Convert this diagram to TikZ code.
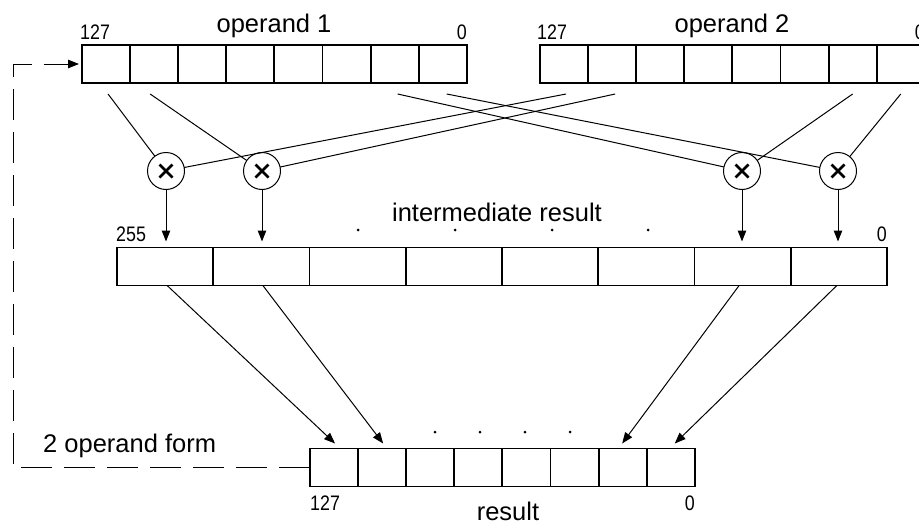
\documentclass[tikz,border=0pt]{standalone}
\usepackage{fontspec}
\setmainfont{Liberation Sans}
\newfontfamily\numfont[FakeStretch=0.85]{Liberation Sans}
\usetikzlibrary{arrows.meta}
\begin{document}
\begin{tikzpicture}[x=1pt,y=-1pt,
  cell/.style={draw, line width=1.9pt, minimum height=38pt, inner sep=0, outer sep=0},
  scell/.style={cell, minimum width=48.1pt},
  wcell/.style={cell, minimum width=96.25pt},
  mult/.style={circle, draw, line width=1pt, minimum size=37pt, inner sep=0, outer sep=0,
    path picture={\draw[line width=2.8pt]
      ([xshift=-6.5pt,yshift=-6.5pt]path picture bounding box.center) -- ([xshift=6.5pt,yshift=6.5pt]path picture bounding box.center)
      ([xshift=-6.5pt,yshift=6.5pt]path picture bounding box.center) -- ([xshift=6.5pt,yshift=-6.5pt]path picture bounding box.center);}},
  wire/.style={line width=1pt},
  arr/.style={wire, -{Triangle[length=11pt,width=8.5pt]}},
  dashline/.style={line width=1pt, dash pattern=on 31pt off 12pt},
  lbl/.style={font=\fontsize{25.5}{30}\selectfont, inner sep=0, anchor=base},
  num/.style={font=\numfont\fontsize{21}{24}\selectfont, inner sep=0}
]
\useasboundingbox (0,0) rectangle (919,525);
\clip (0,0) rectangle (919,525);
\fill[white] (0,0) rectangle (919,525);

% registers
\foreach \i in {0,...,7}{
  \node[scell] (a\i) at ({106.05+48.1*\i},64) {};
  \node[scell] (b\i) at ({564.05+48.1*\i},64) {};
  \node[wcell] (c\i) at ({165.125+96.25*\i},266.5) {};
  \node[scell] (r\i) at ({334.05+48.1*\i},467.5) {};
}

% multipliers
\node[mult] (m1) at (166,171) {};
\node[mult] (m2) at (262,171) {};
\node[mult] (m3) at (742,171) {};
\node[mult] (m4) at (838,171) {};

% operand wires
\draw[wire] ([xshift=2pt,yshift=-11pt]a0.south) -- (m1);
\draw[wire] ([xshift=-4pt,yshift=-11pt]a1.south) -- (m2);
\draw[wire] ([xshift=3pt,yshift=-11pt]a6.south) -- (m3);
\draw[wire] ([xshift=4pt,yshift=-11pt]a7.south) -- (m4);
\draw[wire] ([xshift=2pt,yshift=-11pt]b0.south) -- (m1);
\draw[wire] ([xshift=3pt,yshift=-11pt]b1.south) -- (m2);
\draw[wire] ([yshift=-11pt]b6.south) -- (m3);
\draw[wire] ([yshift=-11pt]b7.south) -- (m4);

% products down
\draw[arr, shorten >=6pt] (m1) -- (m1 |- c0.north);
\draw[arr, shorten >=6pt] (m2) -- (m2 |- c1.north);
\draw[arr, shorten >=6pt] (m3) -- (m3 |- c6.north);
\draw[arr, shorten >=6pt] (m4) -- (m4 |- c7.north);

% to result
\draw[arr] ([xshift=2pt]c0.south) -- ([xshift=1pt,yshift=5pt]r0.north);
\draw[arr] ([xshift=1.5pt]c1.south) -- ([xshift=1pt,yshift=5pt]r1.north);
\draw[arr] ([xshift=-3.5pt]c6.south) -- ([xshift=-0.5pt,yshift=5pt]r6.north);
\draw[arr] ([xshift=-2pt]c7.south) -- ([xshift=4pt,yshift=5pt]r7.north);

% feedback dashed
\coordinate (fb1) at (13,467.5);
\coordinate (fb2) at (13,64);
\draw[dashline, -{Triangle[length=11pt,width=8.5pt]}, shorten >=3pt] (r0.west) -- (fb1) -- (fb2) -- (a0.west);

% dots
\foreach \x in {358,455,552,648} \fill (\x,230) circle (1.5pt);
\foreach \x in {435,480,525,570} \fill (\x,432) circle (1.5pt);

% labels
\node[num, anchor=base west] (n1) at (80,39) {127};
\node[num, anchor=base east] (n2) at (467,39) {0};
\node[num, anchor=base west] (n3) at (537,39) {127};
\node[num, anchor=base east] (n4) at (925,39) {0};
\node[lbl] (t1) at (274,32) {operand 1};
\node[lbl] (t2) at (732,32) {operand 2};
\node[num, anchor=base west] (n5) at (116,241) {255};
\node[num, anchor=base east] (n6) at (887,241) {0};
\node[lbl] (t3) at (497,221) {intermediate result};
\node[lbl, anchor=base west] (t4) at (43,452) {2 operand form};
\node[num, anchor=base west] (n7) at (310,510) {127};
\node[num, anchor=base east] (n8) at (695,510) {0};
\node[lbl] (t5) at (508,520) {result};
\end{tikzpicture}
\end{document}
